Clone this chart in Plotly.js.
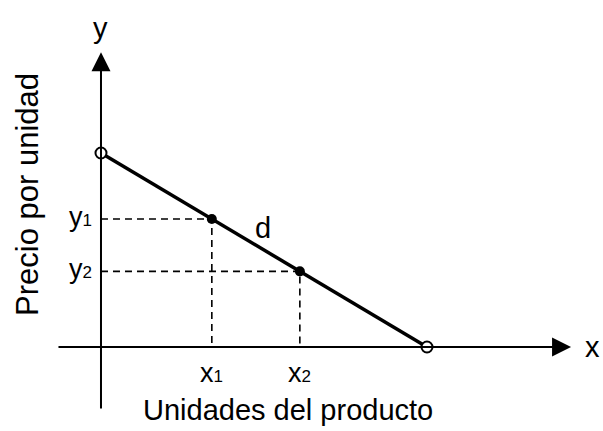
<!DOCTYPE html>
<html>
<head>
<meta charset="utf-8">
<script src="https://cdn.plot.ly/plotly-3.0.1.min.js"></script>
<style>html,body{margin:0;padding:0;background:#fff}#chart{width:603px;height:431px}</style>
</head>
<body>
<div id="chart"></div>
<script>
// Demand line end points (intercepts)
var demandX = [0, 10];
var demandY = [10, 0];
// Marked points on the demand curve
var pointX = [3.4, 6.1];
var pointY = [6.6, 3.9];
var pointXLabels = ['x<span style="font-size:17px">1</span>', 'x<span style="font-size:17px">2</span>'];
var pointYLabels = ['y<span style="font-size:17px">1</span>', 'y<span style="font-size:17px">2</span>'];
// Axis extents (data units)
var xAxisExtent = [-1.35, 14.42];
var yAxisExtent = [-3.25, 15.2];
var curveLabel = 'd';
var curveLabelPos = [4.97, 6.13];
var xTitle = 'Unidades del producto';
var yTitle = 'Precio por unidad';

var FONT = 'Liberation Sans, Arial, sans-serif';
var traces = [];

// dashed guides
for (var i = 0; i < pointX.length; i++) {
  traces.push({x: [0, pointX[i], pointX[i]], y: [pointY[i], pointY[i], 0], mode: 'lines',
    line: {color: '#000', width: 1.6, dash: '7px,5px'}, hoverinfo: 'skip'});
}
traces.push({x: demandX, y: demandY, mode: 'lines', line: {color: '#000', width: 3.5}, hoverinfo: 'skip'});
traces.push({x: pointX, y: pointY, mode: 'markers', marker: {color: '#000', size: 10}, hoverinfo: 'skip'});
traces.push({x: demandX, y: demandY, mode: 'markers',
  marker: {color: '#fff', size: 11, line: {color: '#000', width: 2}}, hoverinfo: 'skip'});

var annotations = [
  {x: xAxisExtent[1], y: 0, ax: xAxisExtent[0], ay: 0, xref: 'x', yref: 'y', axref: 'x', ayref: 'y',
    text: '', showarrow: true, arrowhead: 2, arrowsize: 1.9, arrowwidth: 2, arrowcolor: '#000'},
  {x: 0, y: yAxisExtent[1], ax: 0, ay: yAxisExtent[0], xref: 'x', yref: 'y', axref: 'x', ayref: 'y',
    text: '', showarrow: true, arrowhead: 2, arrowsize: 1.9, arrowwidth: 2, arrowcolor: '#000'}
];
for (var j = 0; j < pointX.length; j++) {
  annotations.push({x: pointX[j], y: 0, xref: 'x', yref: 'y', text: pointXLabels[j], showarrow: false,
    xanchor: 'center', yanchor: 'top', yshift: -9, font: {family: FONT, size: 27, color: '#000'}});
  annotations.push({x: 0, y: pointY[j], xref: 'x', yref: 'y', text: pointYLabels[j], showarrow: false,
    xanchor: 'right', yanchor: 'middle', xshift: -7, yshift: 2, font: {family: FONT, size: 27, color: '#000'}});
}
annotations.push({x: curveLabelPos[0], y: curveLabelPos[1], xref: 'x', yref: 'y', text: curveLabel, showarrow: false,
  xanchor: 'center', yanchor: 'middle', font: {family: FONT, size: 29, color: '#000'}});
annotations.push({x: 0, y: yAxisExtent[1], xref: 'x', yref: 'y', text: 'y', showarrow: false,
  xanchor: 'center', yanchor: 'bottom', yshift: 6, font: {family: FONT, size: 29, color: '#000'}});
annotations.push({x: xAxisExtent[1], y: 0, xref: 'x', yref: 'y', text: 'x', showarrow: false,
  xanchor: 'left', yanchor: 'middle', xshift: 12, font: {family: FONT, size: 29, color: '#000'}});
annotations.push({x: 288 / 603, y: 1 - 410 / 431, xref: 'paper', yref: 'paper', text: xTitle, showarrow: false,
  xanchor: 'center', yanchor: 'middle', font: {family: FONT, size: 29, color: '#000'}});
annotations.push({x: 27 / 603, y: 1 - 195 / 431, xref: 'paper', yref: 'paper', text: yTitle, showarrow: false,
  textangle: -90, xanchor: 'center', yanchor: 'middle', font: {family: FONT, size: 31, color: '#000'}});

var layout = {
  width: 603, height: 431,
  margin: {l: 0, r: 0, t: 0, b: 0},
  paper_bgcolor: '#fff', plot_bgcolor: '#fff',
  showlegend: false,
  xaxis: {range: [-3.098, 15.399], visible: false, fixedrange: true},
  yaxis: {range: [-4.330, 17.887], visible: false, fixedrange: true},
  annotations: annotations
};
Plotly.newPlot('chart', traces, layout, {staticPlot: true, displayModeBar: false});
</script>
</body>
</html>
